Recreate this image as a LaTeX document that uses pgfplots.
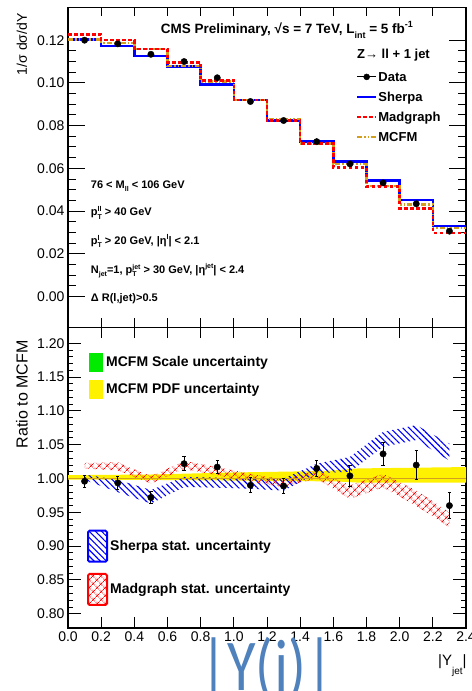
\documentclass[border=0pt]{standalone}
\usepackage{fontspec}
\setmainfont{Liberation Sans}
\newfontfamily\bigfont{Carlito}
\usepackage{pgfplots}
\pgfplotsset{compat=1.18}
\usetikzlibrary{patterns.meta}
\definecolor{mcfm}{RGB}{210,160,30}
\definecolor{bigblue}{RGB}{79,129,189}
\definecolor{sgreen}{RGB}{0,235,0}
\newcommand{\fs}[1]{\fontsize{#1}{#1}\selectfont}
\newcommand{\supsub}[3][7bp]{%
  \setbox0=\hbox{\fontsize{#1}{#1}\selectfont #2}%
  \setbox2=\hbox{\fontsize{#1}{#1}\selectfont #3}%
  \ifdim\wd0>\wd2 \dimen0=\wd0 \else \dimen0=\wd2 \fi
  \hbox to \dimen0{\rlap{\raise4bp\box0}\lower3.5bp\box2\hss}}
\newcommand{\sub}[2][7bp]{\lower3.5bp\hbox{\fontsize{#1}{#1}\selectfont #2}}
\newcommand{\sups}[2][7bp]{\raise4.5bp\hbox{\fontsize{#1}{#1}\selectfont #2}}
\begin{document}
\begin{tikzpicture}
\useasboundingbox (0bp,0bp) rectangle (472bp,691bp);
\begin{scope}
\clip (0bp,0bp) rectangle (472bp,691bp);
% ---------------- top panel ----------------
\begin{axis}[
  at={(68bp,363.5bp)}, anchor=south west,
  scale only axis, width=398bp, height=320.2bp,
  xmin=0, xmax=2.4, ymin=-0.0145, ymax=0.1354,
  xtick={0,0.2,0.4,0.6,0.8,1.0,1.2,1.4,1.6,1.8,2.0,2.2,2.4}, xticklabels={},
  ytick={0,0.02,0.04,0.06,0.08,0.10,0.12}, minor y tick num=3,
  tick align=inside, major tick length=17bp, minor tick length=8bp,
  xtick style={/pgfplots/major tick length=9bp},
  every tick/.style={line width=1bp, black},
  axis line style={line width=1.2bp},
  tick label style={font=\fs{14bp}},
  yticklabel style={/pgf/number format/.cd, fixed, fixed zerofill, precision=2, assume math mode=true},
  every axis y label/.style={at={(axis description cs:-0.1156,0.992)}, rotate=90, anchor=east, font=\fs{14bp}},
  ylabel={1/σ dσ/dY},
  legend style={at={(axis description cs:0.7229,0.8035)}, anchor=north west, draw=none, fill=none, inner sep=0pt,
    font=\bfseries\fs{13bp}, row sep=7bp, nodes={inner sep=1bp, text height=10bp, text depth=1bp}},
  legend cell align=left,
  legend image code/.code={\draw[#1] (0bp,0bp) -- (19bp,0bp);},
]
\addplot[const plot, blue, line width=2.5bp, forget plot] coordinates {
 (0,0.1203)(0.2,0.1172)(0.4,0.1126)(0.6,0.1076)(0.8,0.0993)(1.0,0.0921)
 (1.2,0.0824)(1.4,0.0726)(1.6,0.0632)(1.8,0.0544)(2.0,0.0453)(2.2,0.0331)(2.4,0.0331)};
\addplot[const plot, mcfm, line width=2.5bp, dash pattern=on 5bp off 2bp on 1.5bp off 2bp on 1.5bp off 2bp, forget plot] coordinates {
 (0,0.1203)(0.2,0.1187)(0.4,0.1159)(0.6,0.1078)(0.8,0.1007)(1.0,0.0921)
 (1.2,0.0831)(1.4,0.0717)(1.6,0.0620)(1.8,0.0518)(2.0,0.0431)(2.2,0.0321)(2.4,0.0321)};
\addplot[const plot, red, line width=2.5bp, dash pattern=on 3.5bp off 2.5bp, forget plot] coordinates {
 (0,0.1227)(0.2,0.1200)(0.4,0.1159)(0.6,0.1096)(0.8,0.1012)(1.0,0.0921)
 (1.2,0.0824)(1.4,0.0717)(1.6,0.0604)(1.8,0.0514)(2.0,0.0413)(2.2,0.0298)(2.4,0.0298)};
\addplot[only marks, mark=*, mark size=3.2bp, black, forget plot] coordinates {
 (0.1,0.1200)(0.3,0.1183)(0.5,0.1134)(0.7,0.1100)(0.9,0.1024)(1.1,0.0913)
 (1.3,0.0824)(1.5,0.0725)(1.7,0.0621)(1.9,0.0532)(2.1,0.0434)(2.3,0.0306)};
\addlegendimage{legend image code/.code={\draw[black,line width=1bp](0bp,0bp)--(19bp,0bp);\fill[black](9.5bp,0bp) circle[radius=3bp];}}
\addlegendentry{Data}
\addlegendimage{blue, line width=2.5bp}
\addlegendentry{Sherpa}
\addlegendimage{red, line width=2.5bp, dash pattern=on 3.5bp off 2.5bp}
\addlegendentry{Madgraph}
\addlegendimage{mcfm, line width=2.5bp, dash pattern=on 5bp off 2bp on 1.5bp off 2bp on 1.5bp off 2bp}
\addlegendentry{MCFM}
\end{axis}
% ---------------- bottom panel ----------------
\begin{axis}[
  at={(68bp,63bp)}, anchor=south west,
  scale only axis, width=398bp, height=300.5bp,
  xmin=0, xmax=2.4, ymin=0.779, ymax=1.2234,
  xtick={0,0.2,0.4,0.6,0.8,1.0,1.2,1.4,1.6,1.8,2.0,2.2,2.4},
  ytick={0.80,0.85,0.90,0.95,1.00,1.05,1.10,1.15,1.20}, minor y tick num=4,
  tick align=inside, major tick length=13bp, minor tick length=5bp,
  xtick style={/pgfplots/major tick length=11bp},
  every tick/.style={line width=1bp, black},
  axis line style={line width=1.2bp},
  tick label style={font=\fs{14bp}},
  yticklabel style={/pgf/number format/.cd, fixed, fixed zerofill, precision=2, assume math mode=true},
  xticklabel style={/pgf/number format/.cd, fixed, fixed zerofill, precision=1, assume math mode=true},
  every axis y label/.style={at={(axis description cs:-0.1156,0.9684)}, rotate=90, anchor=east, font=\fs{16bp}},
  ylabel={Ratio to MCFM},
  every axis x label/.style={at={(axis description cs:1,0)}, anchor=base east, xshift=0.7bp, yshift=-37bp, inner sep=0pt, font=\fs{15bp}},
  xlabel={|Y\lower9bp\hbox{\fs{10bp}jet}|},
]
% MCFM PDF band
\addplot[fill=yellow, draw=none] coordinates {
 (0,1.005)(0.5,1.006)(1.0,1.009)(1.5,1.011)(1.6,1.012)(1.75,1.015)(2.4,1.017)
 (2.4,0.994)(1.75,0.994)(1.6,0.996)(1.5,0.996)(1.0,0.997)(0.5,0.998)(0,0.9985)} -- cycle;
% Sherpa stat band
\addplot[draw=none, pattern={Lines[angle=-45,distance=4.4bp,line width=1.1bp]}, pattern color=blue] coordinates {
 (0.1,1.006)(0.3,0.998)(0.5,0.983)(0.7,1.0025)(0.9,1.0015)(1.1,0.999)(1.3,1.000)(1.5,1.022)(1.7,1.032)(1.9,1.069)(2.1,1.079)(2.3,1.0515)
 (2.3,1.0265)(2.1,1.057)(1.9,1.047)(1.7,1.010)(1.5,1.008)(1.3,0.982)(1.1,0.985)(0.9,0.9865)(0.7,0.9875)(0.5,0.963)(0.3,0.980)(0.1,0.998)} -- cycle;
% Madgraph stat band
\addplot[draw=none, pattern={Hatch[angle=45,distance=6bp,line width=0.9bp]}, pattern color=red] coordinates {
 (0.1,1.023)(0.3,1.024)(0.5,1.0035)(0.7,1.026)(0.9,1.017)(1.1,1.007)(1.3,0.9985)(1.5,1.012)(1.7,0.990)(1.9,1.007)(2.1,0.9825)(2.3,0.950)
 (2.3,0.928)(2.1,0.9595)(1.9,0.987)(1.7,0.970)(1.5,1.000)(1.3,0.9875)(1.1,0.995)(0.9,1.005)(0.7,1.014)(0.5,0.9925)(0.3,1.012)(0.1,1.015)} -- cycle;
% line at 1
\addplot[mcfm, line width=1.5bp] coordinates {(0,1.0)(2.4,1.0)};
% data ratio
\addplot[only marks, mark=*, mark size=3.2bp, black,
  error bars/.cd, y dir=both, y explicit,
  error bar style={line width=0.9bp, black},
  error mark options={rotate=90, mark size=1.6bp, line width=0.9bp, black}] coordinates {
 (0.1,0.996) +- (0,0.009)
 (0.3,0.9935) +- (0,0.009)
 (0.5,0.972) +- (0,0.0086)
 (0.7,1.022) +- (0,0.010)
 (0.9,1.017) +- (0,0.010)
 (1.1,0.990) +- (0,0.011)
 (1.3,0.989) +- (0,0.011)
 (1.5,1.015) +- (0,0.012)
 (1.7,1.004) +- (0,0.015)
 (1.9,1.0365) +- (0,0.017)
 (2.1,1.020) +- (0,0.021)
 (2.3,0.960) +- (0,0.019)};
\end{axis}
% ---------------- texts ----------------
\node[anchor=base west, inner sep=0pt, font=\bfseries\fs{13.5bp}] at (160.7bp,657.5bp)
  {CMS Preliminary, √s = 7 TeV, L\lower5bp\hbox{\fs{9bp}int} = 5 fb\raise6bp\hbox{\fs{9bp}-1}};
\node[anchor=base west, inner sep=0pt, font=\bfseries\fs{13bp}] at (357bp,632bp) {Z→ ll + 1 jet};
\begin{scope}[every node/.style={anchor=base west, inner sep=0pt, font=\bfseries\fs{11bp}}]
\node at (90.7bp,502.7bp) {76 < M\sub{ll} < 106 GeV};
\node at (90.7bp,475bp) {p\supsub{ll}{T} > 40 GeV};
\node at (90.7bp,446.7bp) {p\supsub{l}{T} > 20 GeV, |η\sups{l}| < 2.1};
\node at (90.7bp,417.7bp) {N\sub{jet}=1, p\supsub{jet}{T} > 30 GeV, |η\sups{jet}| < 2.4};
\node at (90.7bp,389.3bp) {Δ R(l,jet)>0.5};
\end{scope}
% bottom legend
\fill[sgreen] (89bp,319bp) rectangle (103bp,338bp);
\fill[yellow] (89bp,292bp) rectangle (103bp,311bp);
\draw[blue, line width=2bp, rounded corners=1.5bp, pattern={Lines[angle=-45,distance=4.4bp,line width=1.1bp]}, pattern color=blue] (88bp,129.3bp) rectangle (107bp,160.3bp);
\draw[red, line width=2bp, rounded corners=1.5bp, pattern={Hatch[angle=45,distance=6bp,line width=0.9bp]}, pattern color=red] (88bp,86bp) rectangle (107bp,117bp);
\begin{scope}[every node/.style={anchor=base west, inner sep=0pt, font=\bfseries\fs{14bp}}]
\node at (106bp,324.3bp) {MCFM Scale uncertainty};
\node at (106bp,297.7bp) {MCFM PDF uncertainty};
\node at (110bp,140.3bp) {Sherpa stat. uncertainty};
\node at (110bp,97bp) {Madgraph stat. uncertainty};
\end{scope}
% big annotation
\node[anchor=base west, inner sep=0pt, text=bigblue] at (200bp,1bp) {\scalebox{0.8}[1]{\bigfont\fs{73bp}|Y(j)|}};
\end{scope}
\end{tikzpicture}
\end{document}
